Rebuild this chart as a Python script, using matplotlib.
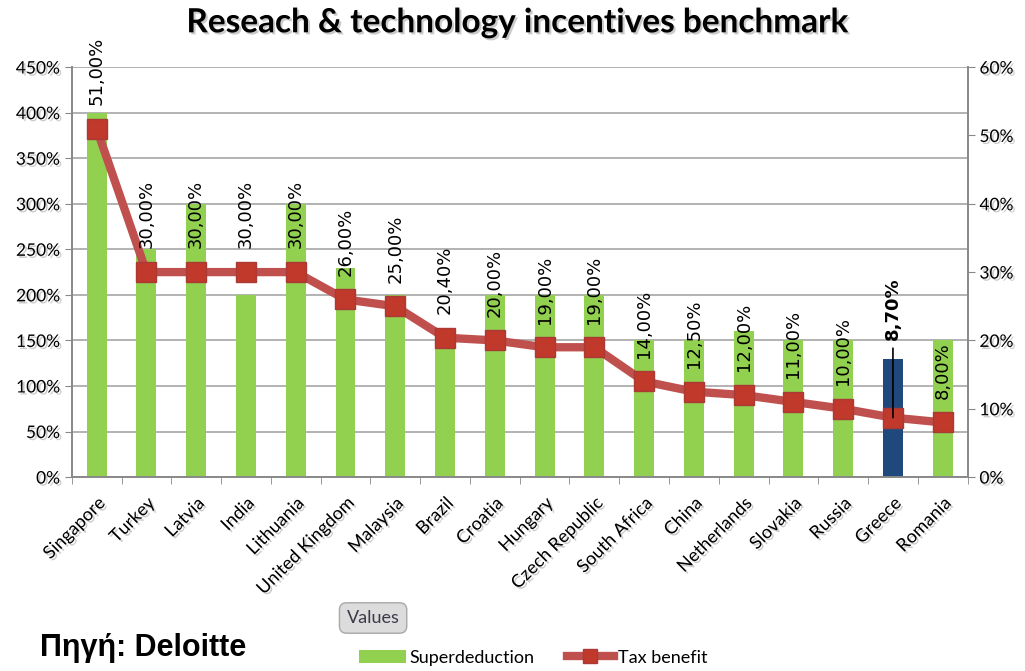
import numpy as np
import matplotlib.pyplot as plt
from matplotlib import patheffects
from matplotlib.patches import Patch
from matplotlib.lines import Line2D

countries = ['Singapore', 'Turkey', 'Latvia', 'India', 'Lithuania', 'United Kingdom',
             'Malaysia', 'Brazil', 'Croatia', 'Hungary', 'Czech Republic', 'South Africa',
             'China', 'Netherlands', 'Slovakia', 'Russia', 'Greece', 'Romania']
superdeduction = [400, 250, 300, 200, 300, 230, 200, 150, 200, 200, 200, 150,
                  150, 160, 150, 150, 130, 150]
tax_benefit = [51, 30, 30, 30, 30, 26, 25, 20.4, 20, 19, 19, 14,
               12.5, 12, 11, 10, 8.7, 8]
highlight = 'Greece'

green = '#92D050'
blue = '#1F497D'
red = '#C0504D'
grid_col = '#a6a6a6'

plt.rcParams['font.family'] = ['Lato', 'DejaVu Sans']
shadow = [patheffects.SimplePatchShadow(offset=(1.5, -1.5), shadow_rgbFace='#999999', alpha=0.5),
          patheffects.Normal()]

fig = plt.figure(figsize=(10.25, 6.71), dpi=100)
ax = fig.add_axes([0.070, 0.289, 0.874, 0.611])
x = np.arange(len(countries))

colors = [blue if c == highlight else green for c in countries]
ax.bar(x, superdeduction, width=0.4, color=colors, zorder=2)
ax.set_ylim(0, 450)
ax.set_xlim(-0.5, len(countries) - 0.5)
ax.set_yticks(np.arange(0, 451, 50))
ax.set_yticklabels([f'{v}%' for v in range(0, 451, 50)], fontsize=12.5)
ax.yaxis.grid(True, color=grid_col, linewidth=1.2, zorder=0)
ax.set_axisbelow(True)
for s in ['left', 'right', 'bottom']:
    ax.spines[s].set_color('#888888')
    ax.spines[s].set_linewidth(1.2)
ax.spines['top'].set_visible(False)
ax.tick_params(axis='y', colors='#888888', labelcolor='black', length=5)
ax.set_xticks(x)
ax.set_xticklabels(countries, rotation=45, ha='right', rotation_mode='anchor', fontsize=13)
ax.tick_params(axis='x', which='major', length=0, pad=13)
ax.set_xticks(np.arange(-0.5, len(countries), 1), minor=True)
ax.tick_params(axis='x', which='minor', length=5, colors='#888888')
for lbl in ax.get_xticklabels() + ax.get_yticklabels():
    lbl.set_path_effects(shadow)

ax2 = ax.twinx()
ax2.plot(x, tax_benefit, color=red, linewidth=6, marker='s', markersize=15,
         markerfacecolor='#C0392B', markeredgecolor='#A93A35', zorder=3)
ax2.set_ylim(0, 60)
ax2.set_yticks(np.arange(0, 61, 10))
ax2.set_yticklabels([f'{v}%' for v in range(0, 61, 10)], fontsize=12.5)
ax2.tick_params(axis='y', colors='#888888', labelcolor='black', length=5)
for s in ['left', 'right', 'bottom']:
    ax2.spines[s].set_color('#888888')
    ax2.spines[s].set_linewidth(1.2)
ax2.spines['top'].set_visible(False)
for lbl in ax2.get_yticklabels():
    lbl.set_path_effects(shadow)

for i, (c, v) in enumerate(zip(countries, tax_benefit)):
    txt = f'{v:.2f}%'.replace('.', ',')
    if c == highlight:
        ax2.annotate(txt, xy=(i, v), xytext=(0, 56), textcoords='offset points',
                     rotation=90, ha='center', va='bottom', fontsize=13,
                     fontweight='bold', family='DejaVu Sans',
                     arrowprops=dict(arrowstyle='-', color='black', lw=1.2,
                                     shrinkA=4, shrinkB=0))
    else:
        ax2.annotate(txt, xy=(i, v), xytext=(0, 17), textcoords='offset points',
                     rotation=90, ha='center', va='bottom', fontsize=13,
                     family='DejaVu Sans')

fig.text(0.505, 0.966, 'Reseach & technology incentives benchmark', ha='center', va='center',
         fontsize=24, fontweight='bold', path_effects=shadow)

fig.text(0.364, 0.079, 'Values', ha='center', va='center', fontsize=13, color='#3a3a4a',
         bbox=dict(boxstyle='round,pad=0.4', facecolor='#dcdcdc', edgecolor='#a8a8a8'))

fig.text(0.039, 0.012, 'Πηγή: Deloitte', ha='left', va='bottom', fontsize=22,
         fontweight='bold', family='Liberation Sans')

handles = [Patch(facecolor=green, label='Superdeduction'),
           Line2D([0], [0], color=red, linewidth=6, marker='s', markersize=10,
                  markerfacecolor='#C0392B', markeredgecolor='#A93A35', label='Tax benefit')]
fig.legend(handles=handles, loc='center', bbox_to_anchor=(0.52, 0.02), ncol=2,
           frameon=False, fontsize=13, handlelength=2.6, handletextpad=0.2,
           columnspacing=1.8)

fig.savefig('out.png', dpi=100)
